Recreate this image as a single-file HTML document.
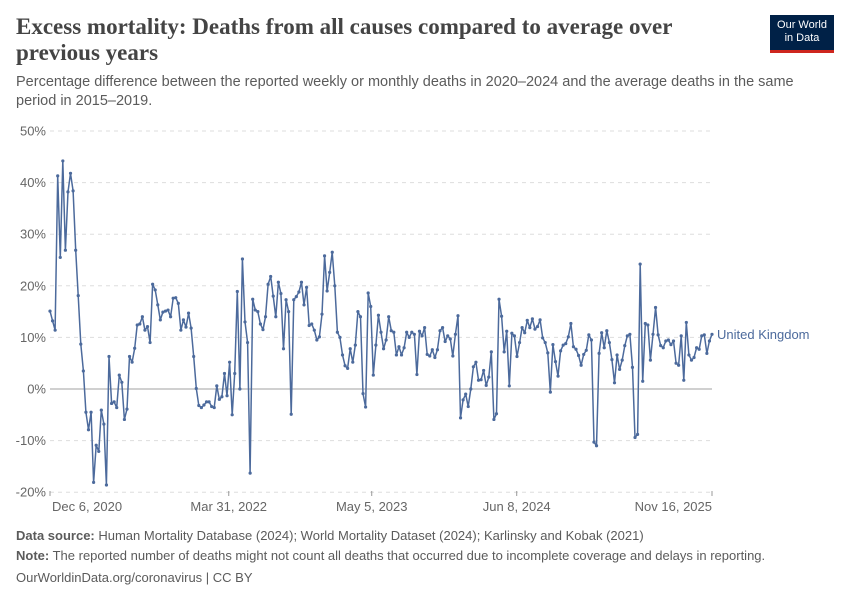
<!DOCTYPE html>
<html><head><meta charset="utf-8"><style>
body{margin:0;background:#fff;font-family:"Liberation Sans",sans-serif;}
#wrap{position:relative;width:850px;height:600px;overflow:hidden;}
.t{position:absolute;white-space:nowrap;}
</style></head><body>
<div id="wrap">
<div class="t" style="left:16px;top:14px;font-family:'Liberation Serif',serif;font-weight:bold;font-size:23px;line-height:26px;color:#444;">Excess mortality: Deaths from all causes compared to average over<br>previous years</div>
<div class="t" style="left:16px;top:73px;font-size:14.5px;line-height:19px;color:#5b5b5b;">Percentage difference between the reported weekly or monthly deaths in 2020–2024 and the average deaths in the same<br>period in 2015–2019.</div>
<div style="position:absolute;left:770px;top:15px;width:64px;height:38px;background:#002147;color:#fff;font-size:11px;line-height:13px;text-align:center;padding-top:4px;box-sizing:border-box;border-bottom:3px solid #ce261e;">Our World<br>in Data</div>
<svg id="chart" width="850" height="600" style="position:absolute;left:0;top:0"></svg>
<div class="t" style="left:16px;top:528px;font-size:13px;color:#5b5b5b;"><b>Data source:</b> Human Mortality Database (2024); World Mortality Dataset (2024); Karlinsky and Kobak (2021)</div>
<div class="t" style="left:16px;top:548px;font-size:13px;color:#5b5b5b;"><b>Note:</b> The reported number of deaths might not count all deaths that occurred due to incomplete coverage and delays in reporting.</div>
<div class="t" style="left:16px;top:570px;font-size:13px;color:#5b5b5b;">OurWorldinData.org/coronavirus | CC BY</div>
</div>
<script>
const yTicks=[50,40,30,20,10,0,-10,-20];
const xLabels=["Dec 6, 2020","Mar 31, 2022","May 5, 2023","Jun 8, 2024","Nov 16, 2025"];
const xLabelFrac=[0,0.270,0.486,0.705,1];
const seriesName="United Kingdom";
const ukValues=[15.1,13.2,11.4,41.3,25.5,44.2,26.9,38.2,41.8,38.4,26.9,18.1,8.7,3.5,-4.5,-7.9,-4.5,-18.1,-10.9,-12.1,-4.1,-6.8,-18.6,6.3,-2.8,-2.5,-3.6,2.7,1.3,-5.9,-3.9,6.3,5.2,7.9,12.4,12.6,14,11.4,12.1,9,20.3,19.2,16.3,13.4,14.9,15.1,15.3,14,17.6,17.7,16.6,11.4,13.4,12,14.7,11.8,6.3,0.1,-3.2,-3.6,-3.1,-2.5,-2.5,-3.4,-3.6,
0.6,-2,-1.5,3,-1.3,5.2,-5,3,18.9,0,25.2,13,9,-16.3,17.4,15.3,15,12.6,11.5,14,20.3,21.8,18,14,20.7,18.5,7.8,17.3,15,-4.9,17.3,17.9,18.8,20.7,16.3,19.7,12.3,12.6,11.4,9.5,10.1,14.5,25.8,19,22.6,26.5,20,11,10,6.6,4.5,4,7.8,5.2,8.5,15,14,-0.9,-3.5,18.6,16,
2.7,8.5,14.3,11,7.8,9.5,14,11.3,11,6.6,8.2,6.6,8,11,10,11,10.6,2.8,11.2,10.3,11.9,6.7,6.4,7.6,6.1,7.6,11.3,11.9,9.2,10.3,9.7,6.4,10.6,14.2,-5.6,-2.1,-1,-3.4,0,4.3,5.2,1.7,1.8,3.6,0.7,2.3,7.2,-5.9,-4.8,17.4,14.1,7.2,11.2,0.6,10.8,10.3,6.3,9,11.9,10.9,13.3,11.9,13.6,11.6,12.1,
13.4,9.9,9,7,-0.6,8.6,5.3,2.5,7.4,8.5,8.8,10.1,12.7,8.2,7.7,6.5,4.6,6.7,7.5,10.5,9.5,-10.3,-11,6.9,10.9,8,11.3,9,5.7,1.2,6.6,3.8,5.6,8.4,10.3,10.6,4.2,-9.4,-8.8,24.2,1.5,12.7,12.4,5.6,10.6,15.8,10.5,8.4,8,9.3,9.5,8.6,9.3,5,4.6,10.3,1.7,12.9,6.6,5.6,6.1,8,7.7,10.3,10.5,6.9,9.3,10.6];

const svg=document.getElementById('chart');const NS='http://www.w3.org/2000/svg';
const X0=50,X1=712,Y0=389,PX=5.16;
const xs=i=>X0+(X1-X0)*i/(ukValues.length-1);
const ys=v=>Y0-v*PX;
function mk(tag,at,parent){const e=document.createElementNS(NS,tag);for(const k in at)e.setAttribute(k,at[k]);(parent||svg).appendChild(e);return e;}
yTicks.forEach(v=>{
  const g=mk('line',{x1:X0,x2:X1,y1:ys(v),y2:ys(v),stroke:v===0?'#a1a1a1':'#ddd','stroke-width':1,'stroke-dasharray':v===0?'':'4,4'});
  
  
  const t=mk('text',{x:46,y:ys(v)+4.5,'text-anchor':'end','font-size':13,fill:'#666','font-family':'Liberation Sans, sans-serif'});
  t.textContent=v+'%';
  
  
});
xLabels.forEach((l,i)=>{
  const x=X0+(X1-X0)*xLabelFrac[i];
  const tk=mk('line',{x1:x,x2:x,y1:491,y2:496,stroke:'#999'});
  
  
  const t=mk('text',{x:i===0?x+2:x,y:511,'text-anchor':i===0?'start':(i===xLabels.length-1?'end':'middle'),'font-size':13,fill:'#666','font-family':'Liberation Sans, sans-serif'});
  t.textContent=l;
  
  
});
const pts=ukValues.map((v,i)=>xs(i).toFixed(1)+','+ys(v).toFixed(1)).join(' ');
const pl=mk('polyline',{points:pts,fill:'none',stroke:'#4c6a9c','stroke-width':1.5,'stroke-linejoin':'round'});


ukValues.forEach((v,i)=>{
  const c=mk('circle',{cx:xs(i),cy:ys(v),r:1.6,fill:'#4c6a9c'});
  
  
});
const lab=mk('text',{x:717,y:ys(ukValues[ukValues.length-1])+4.5,'font-size':13,fill:'#4c6a9c','font-family':'Liberation Sans, sans-serif'});
lab.textContent=seriesName;


</script>
</body></html>
